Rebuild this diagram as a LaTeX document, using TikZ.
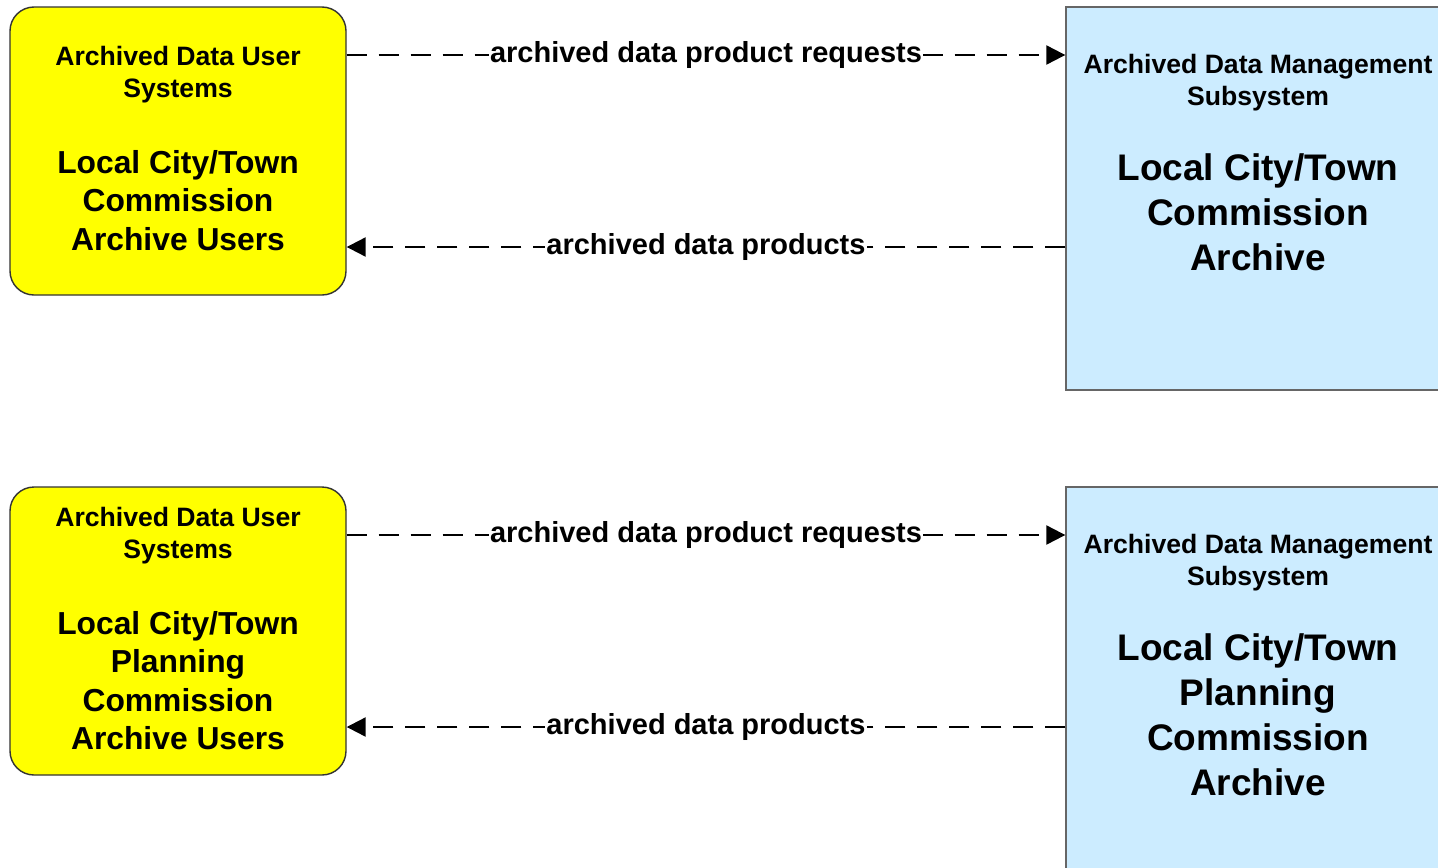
\documentclass[tikz,border=0pt]{standalone}
\usepackage{fontspec}
\setmainfont{Liberation Sans}
\usepackage{tikz}
\usetikzlibrary{positioning,arrows.meta}
\definecolor{userfill}{RGB}{255,255,0}
\definecolor{archfill}{RGB}{204,236,255}

\begin{document}
\begin{tikzpicture}[x=0.5pt,y=-0.5pt,
                       user node/.style={rectangle,rounded corners=12pt,fill=userfill,draw=black!80,line width=0.7pt,minimum width=168pt,minimum height=144pt},
                       arch node/.style={rectangle,fill=archfill,draw=black!60,line width=0.7pt,minimum width=192pt,minimum height=191.5pt},
                       head text/.style={font=\bfseries\fontsize{13.3}{16}\selectfont,align=center,inner sep=0pt},
                       user text/.style={font=\bfseries\fontsize{15.9}{19.25}\selectfont,align=center,inner sep=0pt},
                       arch text/.style={font=\bfseries\fontsize{18.5}{22.5}\selectfont,align=center,inner sep=0pt},
                       flow/.style={dash pattern=on 10pt off 6pt,line width=1.1pt,-{Triangle[length=9.5pt,width=9.5pt]}},
                       flow label/.style={font=\bfseries\fontsize{14.5}{17}\selectfont,fill=white,inner xsep=0.5pt,inner ysep=1pt}
                      ]
  \useasboundingbox (0,0) rectangle (1438,867);
  \clip (0,0) rectangle (1438,867);

  % boxes
  \node[user node] (u1) at (178,151) {};
  \node[arch node] (a1) at (1258,198.5) {};
  \node[user node] (u2) at (178,631) {};
  \node[arch node] (a2) at (1258,678.5) {};

  % texts
  \node[head text,below=20pt of u1.north] (u1h) {Archived Data User\\Systems};
  \node[user text,below=23pt of u1h] (u1n) {Local City/Town\\Commission\\Archive Users};
  \node[head text,below=24pt of a1.north] (a1h) {Archived Data Management\\Subsystem};
  \node[arch text,below=20.5pt of a1h] (a1n) {Local City/Town\\Commission\\Archive};

  \node[head text,below=10.5pt of u2.north] (u2h) {Archived Data User\\Systems};
  \node[user text,below=23pt of u2h] (u2n) {Local City/Town\\Planning\\Commission\\Archive Users};
  \node[head text,below=24pt of a2.north] (a2h) {Archived Data Management\\Subsystem};
  \node[arch text,below=20.5pt of a2h] (a2n) {Local City/Town\\Planning\\Commission\\Archive};

  % flows
  \coordinate (u1r) at ([yshift=48pt]u1.east);
  \coordinate (u1p) at ([yshift=-48pt]u1.east);
  \coordinate (u2r) at ([yshift=48pt]u2.east);
  \coordinate (u2p) at ([yshift=-48pt]u2.east);

  \draw[flow] (u1r) -- (u1r -| a1.west) node[flow label,midway] {archived data product requests};
  \draw[flow] (u1p -| a1.west) -- (u1p) node[flow label,midway] {archived data products};
  \draw[flow] (u2r) -- (u2r -| a2.west) node[flow label,midway] {archived data product requests};
  \draw[flow] (u2p -| a2.west) -- (u2p) node[flow label,midway] {archived data products};
\end{tikzpicture}
\end{document}
